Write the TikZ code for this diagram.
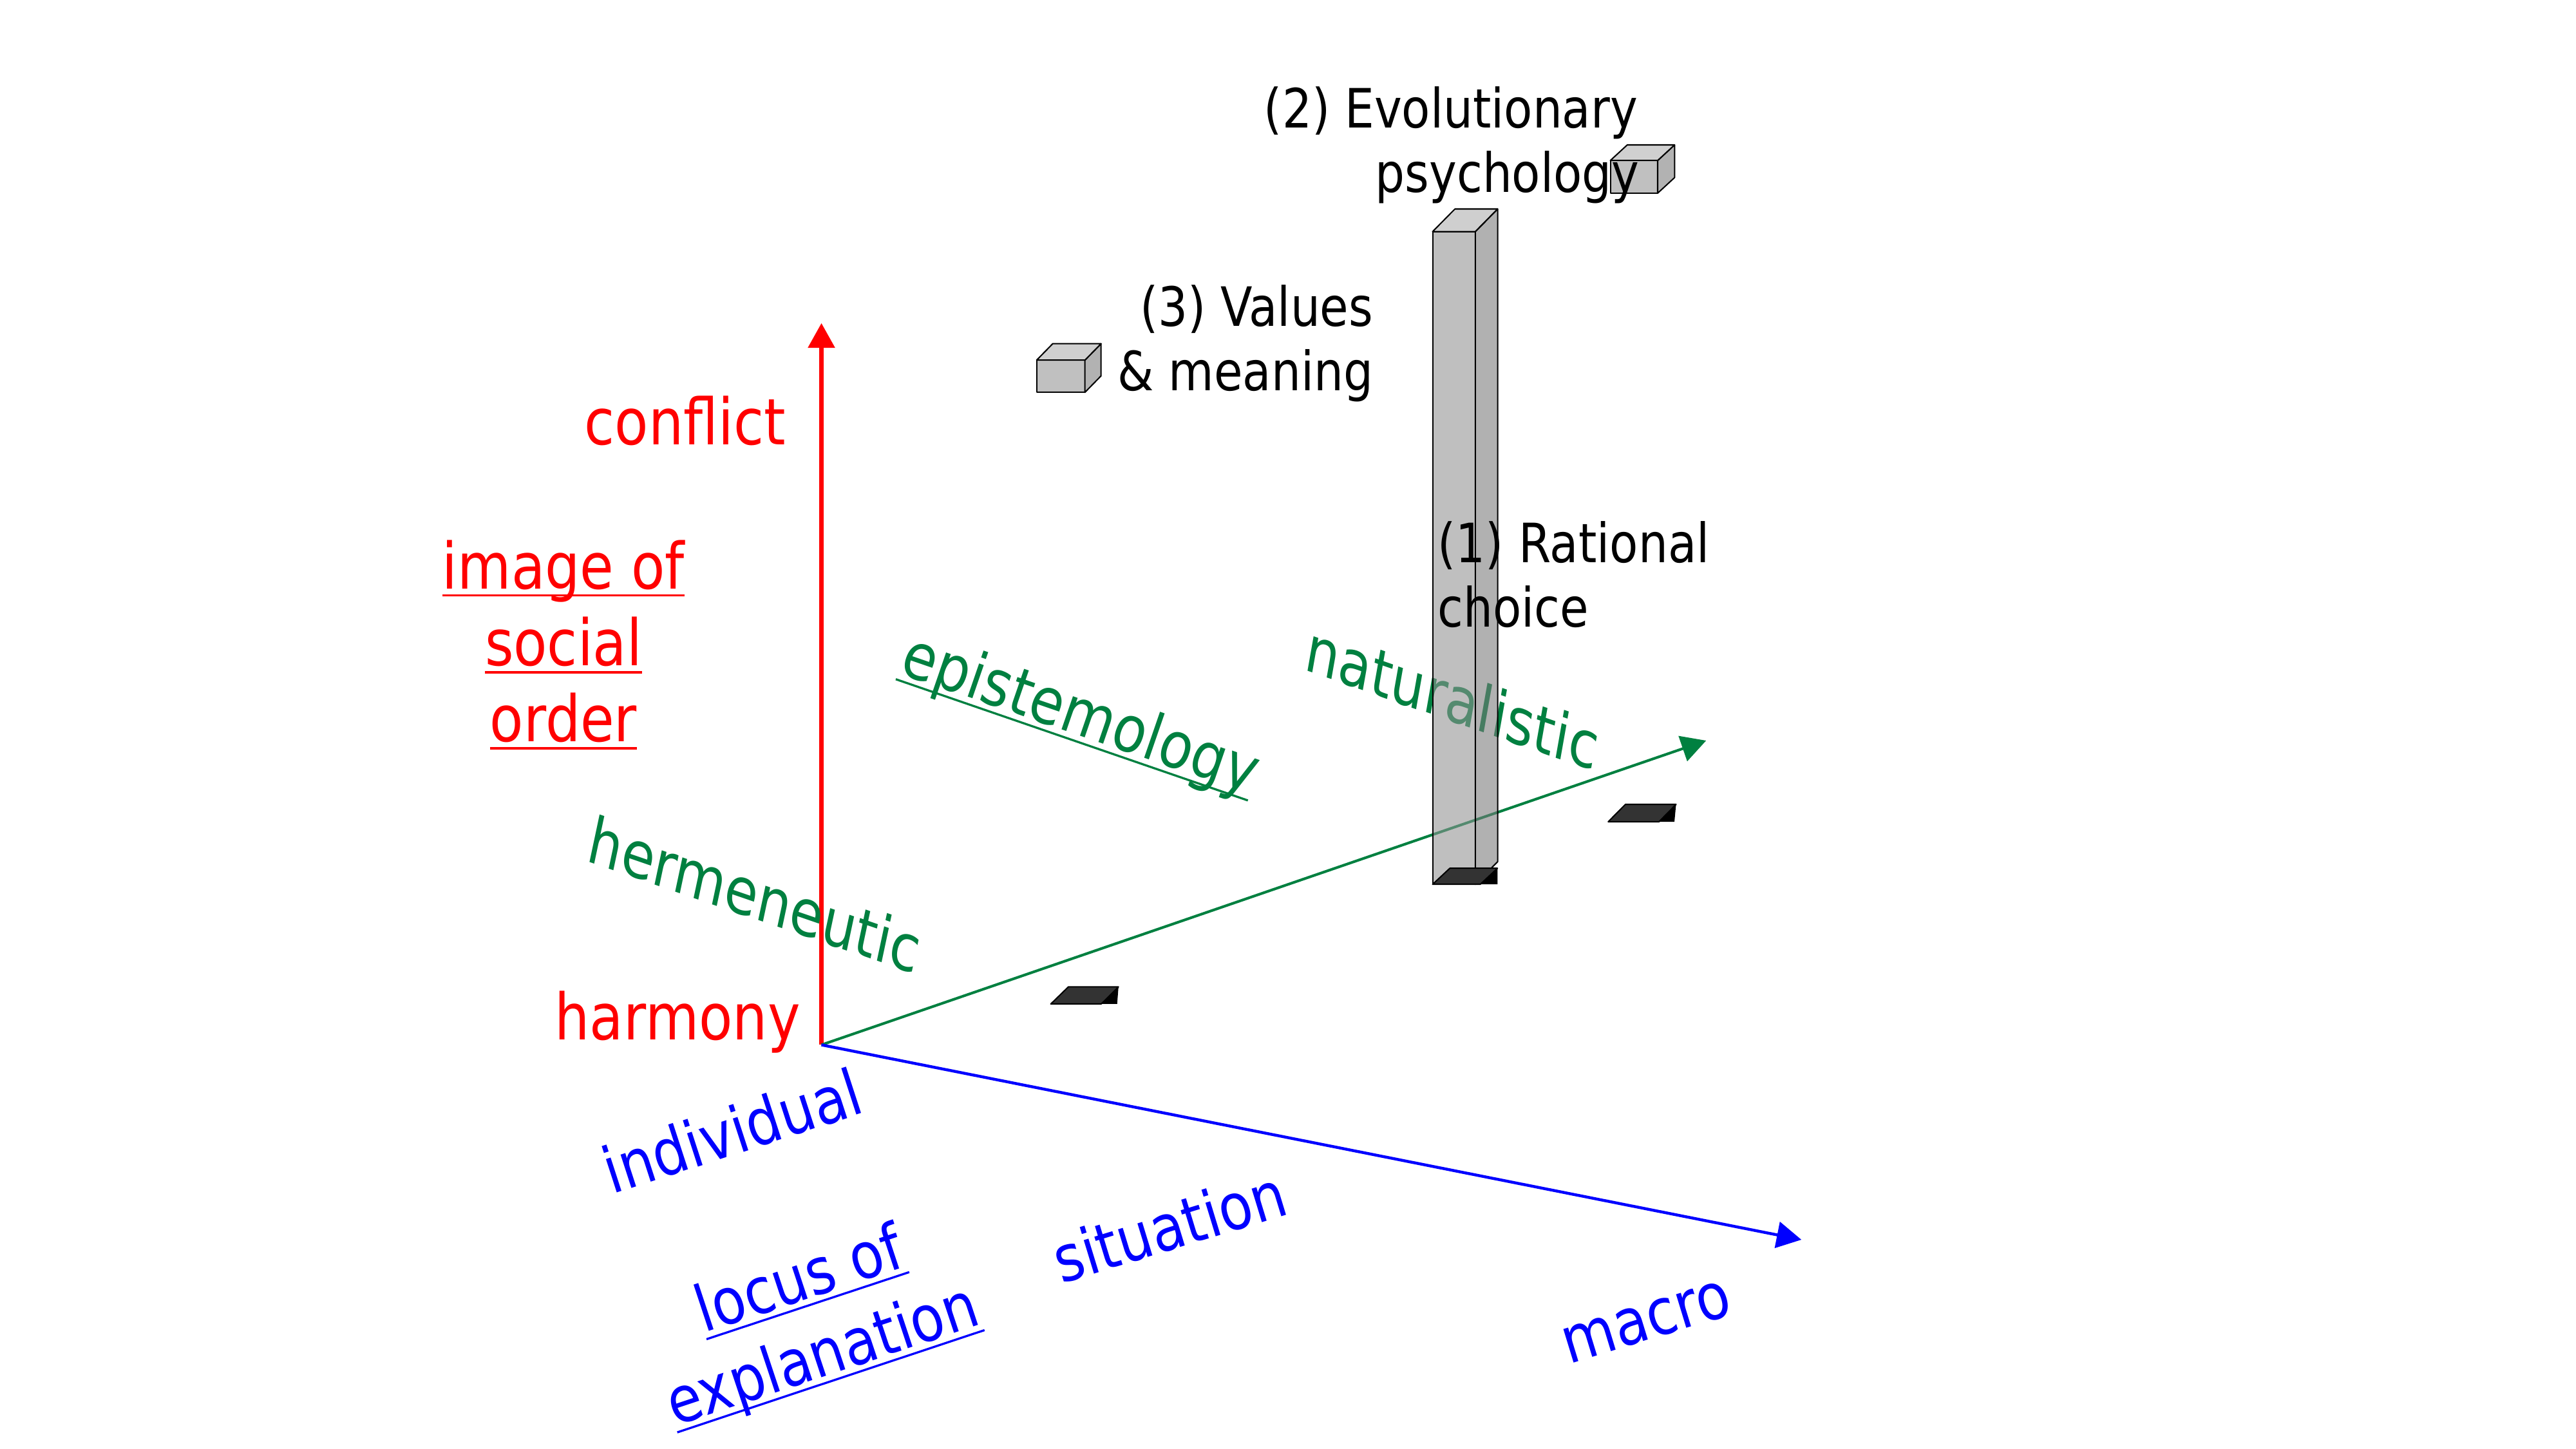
\documentclass[tikz,border=0pt]{standalone}
\usepackage{fontspec}
\setmainfont{DejaVu Sans}[FakeStretch=0.86]
\usetikzlibrary{arrows.meta}
\definecolor{axred}{RGB}{255,0,0}
\definecolor{axgreen}{RGB}{0,128,64}
\definecolor{axblue}{RGB}{0,0,255}
\definecolor{cfront}{RGB}{192,192,192}
\definecolor{cside}{RGB}{178,178,178}
\definecolor{ctop}{RGB}{208,208,208}
\definecolor{bfront}{RGB}{146,146,146}
\definecolor{bside}{RGB}{122,122,122}
\definecolor{btop}{RGB}{174,174,174}
\definecolor{shade}{RGB}{51,51,51}
\newcommand\myul[1]{\setbox0\hbox{#1}\rlap{\rule[-4.6pt]{\wd0}{1.3pt}}\box0}
\begin{document}
\begin{tikzpicture}[x=1pt,y=-1pt,
  lab/.style={inner sep=0pt, font=\fontsize{39}{47}\selectfont},
  blk/.style={inner sep=0pt, font=\fontsize{33}{39}\selectfont, text=black},
  axis/.style={-{Triangle[length=15pt,width=16pt]}},
  edge/.style={draw=black, line width=0.8pt, line join=round},
  barface/.style={edge, fill opacity=0.58},
  shadow/.style={edge, fill=shade}]
\fill[white] (0,0) rectangle (1568,882);
\useasboundingbox (0,0) rectangle (1568,882);

% axes
\coordinate (O) at (500,636);
\coordinate (Ztip) at (500,196.7);
\coordinate (Ntip) at (1038.5,450.8);
\coordinate (Mtip) at (1096.5,754.6);
\draw[axis, axred, line width=2.4pt] (O) -- (Ztip);
\draw[axis, axgreen, line width=1.6pt] (O) -- (Ntip);
\draw[axis, axblue, line width=1.75pt] (O) -- (Mtip);

% red labels
\node[lab, text=axred, anchor=base east] (conflict) at (478.3,270.5) {conflict};
\node[lab, text=axred, anchor=base] (img1) at (343,358.4) {\myul{image of}};
\node[lab, text=axred, anchor=base] (img2) at (343,405.3) {\myul{social}};
\node[lab, text=axred, anchor=base] (img3) at (343,451.5) {\myul{order}};
\node[lab, text=axred, anchor=base east] (harmony) at (487.3,632.8) {harmony};

% green labels
\node[lab, text=axgreen, anchor=base, cm={0.9455,-0.3256,0.2079,0.978,(0,0)}] (herm) at (456.7,558.4) {hermeneutic};
\node[lab, text=axgreen, anchor=base, rotate=-19] (epist) at (653.7,446.6) {\myul{epistemology}};
\node[lab, text=axgreen, anchor=base, cm={0.9444,-0.3289,0.1736,0.9848,(0,0)}] (nat) at (881.8,438.5) {naturalistic};

% blue labels
\node[lab, text=axblue, anchor=base, rotate=18] (indiv) at (450,702) {individual};
\node[lab, text=axblue, anchor=base, rotate=18.3] (locus1) at (490.5,791) {\myul{locus of}};
\node[lab, text=axblue, anchor=base, rotate=18.4] (locus2) at (504.5,837) {\myul{explanation}};
\node[lab, text=axblue, anchor=base, rotate=17] (sit) at (716,760) {situation};
\node[lab, text=axblue, anchor=base, rotate=17] (macro) at (1005.5,815) {macro};

% cube (3)
\filldraw[edge, fill=cfront] (631,219.2) rectangle (660.4,238.8);
\filldraw[edge, fill=cside] (660.4,238.8) -- (660.4,219.2) -- (670.2,209.2) -- (670.2,228.8) -- cycle;
\filldraw[edge, fill=ctop] (631,219.2) -- (640.8,209.2) -- (670.2,209.2) -- (660.4,219.2) -- cycle;

% cube (2)
\filldraw[edge, fill=cfront] (980.2,97.7) rectangle (1009,117.6);
\filldraw[edge, fill=cside] (1009,117.6) -- (1009,97.7) -- (1019.3,88.2) -- (1019.3,108.1) -- cycle;
\filldraw[edge, fill=ctop] (980.2,97.7) -- (990.5,88.2) -- (1019.3,88.2) -- (1009,97.7) -- cycle;

% bar (1), translucent
\filldraw[barface, fill=bfront] (872,141) rectangle (898,538.3);
\filldraw[barface, fill=bside] (898,538.3) -- (898,141) -- (911.6,127.2) -- (911.6,524.5) -- cycle;
\filldraw[barface, fill=btop] (872,141) -- (885.6,127.2) -- (911.6,127.2) -- (898,141) -- cycle;

% shadows
\filldraw[shadow] (639.6,611.1) -- (650.3,600.7) -- (680.8,600.7) -- (670.3,611.1) -- cycle;
\fill[black] (680.8,600.7) -- (680,611.1) -- (670.3,611.1) -- cycle;
\filldraw[shadow] (978.9,500.2) -- (989.4,489.6) -- (1020.2,489.6) -- (1009.8,500.2) -- cycle;
\fill[black] (1020.2,489.6) -- (1019.2,500.2) -- (1009.8,500.2) -- cycle;
\filldraw[shadow] (872,538.3) -- (882.5,528.5) -- (911.5,528.5) -- (901,538.3) -- cycle;
\fill[black] (911.5,528.5) -- (911.5,538.3) -- (901,538.3) -- cycle;

% black labels
\node[blk, anchor=base west] (rc1) at (875,342.5) {(1) Rational};
\node[blk, anchor=base west] (rc2) at (875,381.6) {choice};
\node[blk, anchor=base east] (ev1) at (997,77.8) {(2) Evolutionary};
\node[blk, anchor=base east] (ev2) at (998,116.9) {psychology};
\node[blk, anchor=base east] (va1) at (836,198.6) {(3) Values};
\node[blk, anchor=base east] (va2) at (836,237.8) {\& meaning};
\end{tikzpicture}
\end{document}
